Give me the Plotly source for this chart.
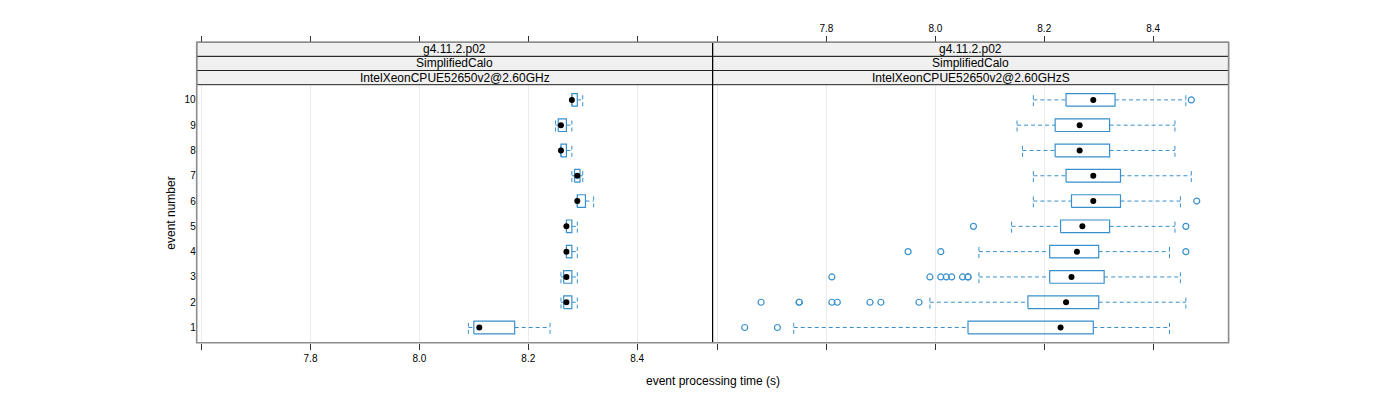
import plotly.graph_objects as go

# event numbers (y categories)
events = [1, 2, 3, 4, 5, 6, 7, 8, 9, 10]

# panel 1: IntelXeonCPUE52650v2@2.60GHz
p1_lo = [8.09, 8.26, 8.26, 8.27, 8.27, 8.29, 8.28, 8.26, 8.25, 8.28]
p1_q1 = [8.10, 8.265, 8.265, 8.27, 8.27, 8.29, 8.285, 8.26, 8.255, 8.28]
p1_med = [8.11, 8.27, 8.27, 8.27, 8.27, 8.29, 8.29, 8.26, 8.26, 8.28]
p1_q3 = [8.175, 8.28, 8.28, 8.28, 8.28, 8.305, 8.295, 8.27, 8.27, 8.29]
p1_hi = [8.24, 8.29, 8.29, 8.29, 8.29, 8.32, 8.30, 8.28, 8.28, 8.30]
p1_out = [[], [], [], [], [], [], [], [], [], []]

# panel 2: IntelXeonCPUE52650v2@2.60GHzS
p2_lo = [7.74, 7.99, 8.08, 8.08, 8.14, 8.18, 8.18, 8.16, 8.15, 8.18]
p2_q1 = [8.06, 8.17, 8.21, 8.21, 8.23, 8.25, 8.24, 8.22, 8.22, 8.24]
p2_med = [8.23, 8.24, 8.25, 8.26, 8.27, 8.29, 8.29, 8.265, 8.265, 8.29]
p2_q3 = [8.29, 8.30, 8.31, 8.30, 8.32, 8.34, 8.34, 8.32, 8.32, 8.33]
p2_hi = [8.43, 8.46, 8.45, 8.43, 8.44, 8.45, 8.47, 8.44, 8.44, 8.46]
p2_out = [
    [7.65, 7.71],
    [7.68, 7.75, 7.75, 7.81, 7.82, 7.88, 7.90, 7.97],
    [7.81, 7.99, 8.01, 8.02, 8.03, 8.05, 8.06, 8.06],
    [7.95, 8.01, 8.46],
    [8.07, 8.46],
    [8.48],
    [],
    [],
    [],
    [8.47],
]

# strip labels (top to bottom) and axis ticks
strip_levels = ["g4.11.2.p02", "SimplifiedCalo"]
strip_cpu = ["IntelXeonCPUE52650v2@2.60GHz", "IntelXeonCPUE52650v2@2.60GHzS"]
x_ticks = [7.6, 7.8, 8.0, 8.2, 8.4]
x_ticktext = ["", "7.8", "8.0", "8.2", "8.4"]

BLUE = "#3890cc"
FONT = "Liberation Sans"
W, H = 1400, 400
OFF = 8  # page body margin
HALF = 0.25


def px(x):
    return (x - OFF) / W


def py(y):
    return 1 - (y - OFF) / H


def panel_traces(lo, q1, med, q3, hi, out, xa, ya):
    wx, wy, bx, by, ox, oy = [], [], [], [], [], []
    for ev, a, b, m, c, d, o in zip(events, lo, q1, med, q3, hi, out):
        wx += [a, b, None, c, d, None, a, a, None, d, d, None]
        wy += [ev, ev, None, ev, ev, None, ev - HALF, ev + HALF, None,
               ev - HALF, ev + HALF, None]
        bx += [b, c, c, b, b, None]
        by += [ev - HALF, ev - HALF, ev + HALF, ev + HALF, ev - HALF, None]
        ox += o
        oy += [ev] * len(o)
    return [
        go.Scatter(x=wx, y=wy, mode="lines", xaxis=xa, yaxis=ya,
                   line=dict(color=BLUE, width=1, dash="4px,3px"), hoverinfo="skip"),
        go.Scatter(x=bx, y=by, mode="lines", xaxis=xa, yaxis=ya,
                   line=dict(color=BLUE, width=1.2), hoverinfo="skip"),
        go.Scatter(x=ox, y=oy, mode="markers", xaxis=xa, yaxis=ya,
                   marker=dict(symbol="circle-open", size=6, color=BLUE,
                               line=dict(width=1.2, color=BLUE))),
        go.Scatter(x=med, y=events, mode="markers", xaxis=xa, yaxis=ya,
                   marker=dict(symbol="circle", size=6, color="black")),
    ]


fig = go.Figure()
for t in panel_traces(p1_lo, p1_q1, p1_med, p1_q3, p1_hi, p1_out, "x", "y"):
    fig.add_trace(t)
for t in panel_traces(p2_lo, p2_q1, p2_med, p2_q3, p2_hi, p2_out, "x2", "y2"):
    fig.add_trace(t)
# dummy traces so the top axes get drawn
fig.add_trace(go.Scatter(x=[None], y=[None], xaxis="x3", yaxis="y", showlegend=False))
fig.add_trace(go.Scatter(x=[None], y=[None], xaxis="x4", yaxis="y2", showlegend=False))

# panel geometry in pixels
L, M, R = 196.7, 712.6, 1228.6
TOP, S1, S2, PT, PB = 42.3, 56.4, 70.5, 84.7, 342.7
x_range = [7.591, 8.5385]

xcommon = dict(range=x_range, tickvals=x_ticks, ticks="outside", ticklen=6,
               tickcolor="#333", tickfont=dict(size=10, color="black"),
               zeroline=False, showline=False, automargin=False)
fig.update_layout(
    xaxis=dict(domain=[px(L), px(M)], anchor="y", ticktext=x_ticktext,
               showgrid=True, gridcolor="#ebebeb", **xcommon),
    xaxis2=dict(domain=[px(M), px(R)], anchor="y2", ticktext=[""] * 5,
                showgrid=True, gridcolor="#ebebeb", **xcommon),
    xaxis3=dict(overlaying="x", anchor="free", position=py(TOP), side="top",
                ticktext=[""] * 5, showgrid=False, **xcommon),
    xaxis4=dict(overlaying="x2", anchor="free", position=py(TOP), side="top",
                ticktext=x_ticktext, showgrid=False, **xcommon),
    yaxis=dict(domain=[py(PB), py(PT)], range=[0.4, 10.6], anchor="x",
               tickvals=events, ticks="", showgrid=False, zeroline=False,
               automargin=False, tickfont=dict(size=10, color="black")),
    yaxis2=dict(domain=[py(PB), py(PT)], range=[0.4, 10.6], anchor="x2",
                tickvals=events, showticklabels=False, ticks="",
                showgrid=False, zeroline=False, automargin=False),
)

shapes = []
annotations = []
# strips
for i, (x0, x1) in enumerate([(L, M), (M, R)]):
    labels = strip_levels + [strip_cpu[i]]
    for (y0, y1), lab in zip([(TOP, S1), (S1, S2), (S2, PT)], labels):
        shapes.append(dict(type="rect", xref="paper", yref="paper",
                           x0=px(x0), x1=px(x1), y0=py(y1), y1=py(y0),
                           fillcolor="#f0f0f0", line=dict(color="#222", width=1)))
        annotations.append(dict(text=lab, xref="paper", yref="paper",
                                x=px((x0 + x1) / 2), y=py((y0 + y1) / 2),
                                xanchor="center", yanchor="middle",
                                showarrow=False, font=dict(size=12, color="black")))
# separator and outer frame
shapes.append(dict(type="line", xref="paper", yref="paper", x0=px(M), x1=px(M),
                   y0=py(PB), y1=py(TOP), line=dict(color="black", width=1.2),
                   layer="above"))
shapes.append(dict(type="rect", xref="paper", yref="paper", x0=px(L), x1=px(R),
                   y0=py(PB), y1=py(TOP), line=dict(color="#8c8c8c", width=1.6),
                   layer="above"))

annotations.append(dict(text="event processing time (s)", xref="paper", yref="paper",
                        x=px((L + R) / 2), y=py(381), xanchor="center",
                        yanchor="middle", showarrow=False,
                        font=dict(size=12, color="black")))
annotations.append(dict(text="event number", xref="paper", yref="paper",
                        x=px(171), y=py((PT + PB) / 2), textangle=-90,
                        xanchor="center", yanchor="middle",
                        showarrow=False, font=dict(size=12, color="black")))

fig.update_layout(
    width=W, height=H, autosize=False,
    margin=dict(l=0, r=0, t=0, b=0),
    paper_bgcolor="white", plot_bgcolor="white",
    showlegend=False,
    font=dict(family=FONT, color="black"),
    shapes=shapes, annotations=annotations,
)

fig.write_html("out.html")
